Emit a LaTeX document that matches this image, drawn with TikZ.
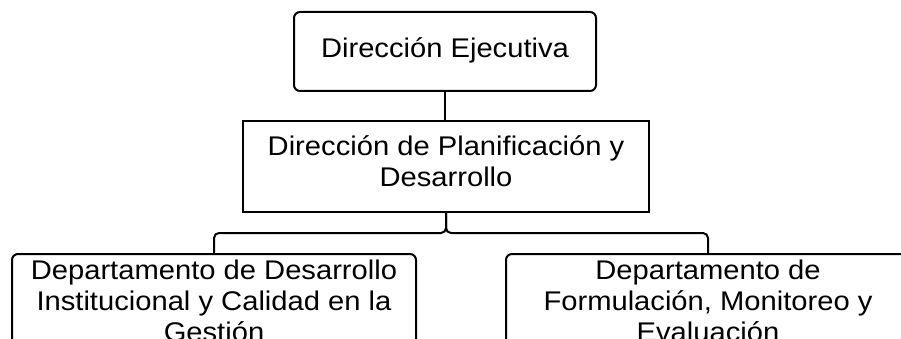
\documentclass[tikz,border=0pt]{standalone}
\usepackage{fontspec}
\setmainfont{Liberation Sans}[FakeStretch=1.08]
\begin{document}
\begin{tikzpicture}[x=1pt,y=-1pt,
  box/.style={draw=black, line width=2pt, fill=white, align=center, inner xsep=0pt,
    font=\fontsize{27}{31}\selectfont},
  roundbox/.style={box, rounded corners=6pt},
  link/.style={draw=black, line width=2pt}]
\clip (0,0) rectangle (901,339);
\fill[white] (0,0) rectangle (901,339);
\node[roundbox, minimum width=302pt, minimum height=79pt, inner ysep=0pt,
  text height=20pt, text depth=8.4pt] (de) at (445,51.5) {Dirección Ejecutiva};
\node[box, minimum width=406pt, minimum height=91pt, inner ysep=0pt,
  text height=51pt, text depth=10.6pt] (dp) at (446,166.5) {Dirección de Planificación y\\Desarrollo};
\node[roundbox, anchor=north, minimum width=404pt, inner ysep=5pt,
  text height=82pt, text depth=30pt] (ddi) at (214,253)
  {Departamento de Desarrollo\\Institucional y Calidad en la\\Gestión};
\node[roundbox, anchor=north, minimum width=404pt, inner ysep=5pt,
  text height=82pt, text depth=30pt] (dfm) at (708,253)
  {Departamento de\\Formulación, Monitoreo y\\Evaluación};
\coordinate (bus) at (0,233);
\draw[link] (de.south) -- (de.south |- dp.north);
\draw[link, rounded corners=5pt] (dp.south) -- (dp.south |- bus) -- (ddi.north |- bus) -- (ddi.north);
\draw[link, rounded corners=5pt] (dp.south) -- (dp.south |- bus) -- (dfm.north |- bus) -- (dfm.north);
\end{tikzpicture}
\end{document}
